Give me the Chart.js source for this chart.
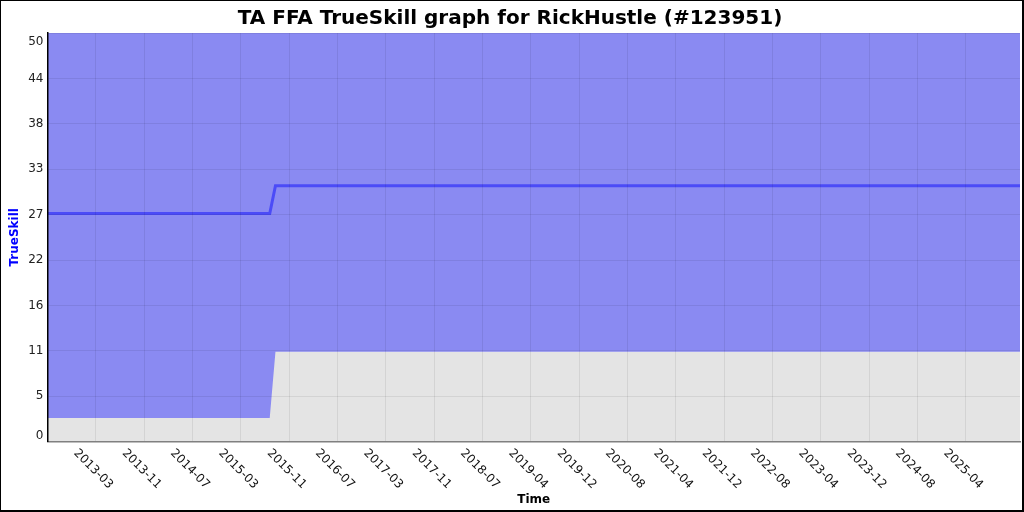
<!DOCTYPE html>
<html>
<head>
<meta charset="utf-8">
<script src="https://cdn.jsdelivr.net/npm/chart.js@4/dist/chart.umd.min.js"></script>
<style>
  html, body { margin: 0; padding: 0; background: #fff; }
  canvas { display: block; }
</style>
</head>
<body>
<canvas id="chart" width="1024" height="512"></canvas>
<script>
// rating history (dates in UTC)
const pointDates = ["2012-07-17", "2015-08-18", "2015-09-16", "2026-01-15"];
const muValues = [27.9, 27.9, 31.3, 31.3];
const lowerValues = [2.9, 2.9, 11.0, 11.0];
const upperValues = [53.0, 53.0, 51.6, 51.6];

const xMinDate = "2012-07-17";
const xMaxDate = "2026-01-15";
const firstTickDate = "2013-03-19";
const tickStepDays = 245;
const xTickLabels = ["2013-03", "2013-11", "2014-07", "2015-03", "2015-11", "2016-07", "2017-03",
  "2017-11", "2018-07", "2019-04", "2019-12", "2020-08", "2021-04", "2021-12", "2022-08",
  "2023-04", "2023-12", "2024-08", "2025-04"];

const yMax = 50;
const yTickLabels = ["0", "5", "11", "16", "22", "27", "33", "38", "44", "50"];

const DAY = 86400000;
const font = '"DejaVu Sans", sans-serif';

const pts = vals => vals.map((v, i) => ({ x: Date.parse(pointDates[i]), y: v }));

const paper = {
  id: "paper",
  beforeDraw(chart) {
    const { ctx, chartArea: a } = chart;
    ctx.save();
    ctx.fillStyle = "#fff";
    ctx.fillRect(0, 0, chart.width, chart.height);
    ctx.fillStyle = "#e4e4e4";
    ctx.fillRect(a.left, a.top, a.right - a.left, a.bottom - a.top);
    ctx.restore();
  },
  afterDraw(chart) {
    const { ctx, chartArea: a } = chart;
    const { x, y } = chart.scales;
    ctx.save();
    ctx.font = "12px " + font;
    ctx.fillStyle = "#222";
    ctx.textAlign = "right";
    ctx.textBaseline = "middle";
    y.ticks.forEach((t, i) => {
      let py = y.getPixelForValue(t.value);
      py = Math.min(Math.max(py, a.top + 8.5), a.bottom - 5.5);
      ctx.fillText(yTickLabels[i], a.left - 4, py);
    });
    ctx.fillStyle = "#111";
    ctx.textAlign = "center";
    x.ticks.forEach((t, i) => {
      ctx.save();
      ctx.translate(x.getPixelForValue(t.value) - 2.5, a.bottom + 27.5);
      ctx.rotate(Math.PI / 4);
      ctx.fillText(xTickLabels[i], 0, 0);
      ctx.restore();
    });
    // outer frame
    ctx.fillStyle = "#000";
    ctx.fillRect(0, 0, chart.width, 1);
    ctx.fillRect(0, 0, 1, chart.height);
    ctx.fillRect(chart.width - 2, 0, 2, chart.height);
    ctx.fillRect(0, chart.height - 2, chart.width, 2);
    ctx.restore();
  }
};

new Chart(document.getElementById("chart"), {
  type: "line",
  data: {
    datasets: [
      {
        label: "TrueSkill",
        data: pts(muValues),
        borderColor: "#4b4bf7",
        borderWidth: 3,
        pointRadius: 0,
        fill: false,
        order: 0
      },
      {
        label: "upper",
        data: pts(upperValues),
        borderWidth: 0,
        pointRadius: 0,
        backgroundColor: "#8a8af2",
        fill: "+1",
        order: 1
      },
      {
        label: "lower",
        data: pts(lowerValues),
        borderWidth: 0,
        pointRadius: 0,
        fill: false,
        order: 2
      }
    ]
  },
  options: {
    responsive: false,
    animation: false,
    devicePixelRatio: 1,
    layout: { padding: { top: 0, right: 4, bottom: 0, left: 0 } },
    plugins: {
      legend: { display: false },
      tooltip: { enabled: false },
      title: {
        display: true,
        text: "TA FFA TrueSkill graph for RickHustle (#123951)",
        color: "#000",
        font: { family: font, size: 20, weight: "bold" },
        padding: { top: 7, bottom: 2 }
      }
    },
    scales: {
      x: {
        type: "linear",
        min: Date.parse(xMinDate),
        max: Date.parse(xMaxDate),
        afterBuildTicks: scale => {
          const t0 = Date.parse(firstTickDate);
          scale.ticks = xTickLabels.map((_, i) => ({ value: t0 + i * tickStepDays * DAY }));
        },
        ticks: { display: false },
        grid: { color: "rgba(0,0,0,0.075)", drawTicks: false, z: 1 },
        border: { color: "#808080", width: 1.5, z: 2 },
        title: {
          display: true,
          text: "Time",
          color: "#000",
          font: { family: font, size: 12, weight: "bold" },
          padding: { top: 51, bottom: 5 }
        }
      },
      y: {
        min: 0,
        max: yMax,
        afterBuildTicks: scale => {
          scale.ticks = yTickLabels.map((_, i) => ({ value: i * yMax / (yTickLabels.length - 1) }));
        },
        ticks: { display: false },
        grid: { color: "rgba(0,0,0,0.075)", drawTicks: false, z: 1 },
        border: { color: "#000", width: 1.5, z: 2 },
        title: {
          display: true,
          text: "TrueSkill",
          color: "#0000ff",
          font: { family: font, size: 12, weight: "bold" },
          padding: { top: 8, bottom: 25 }
        }
      }
    }
  },
  plugins: [paper]
});
</script>
</body>
</html>
